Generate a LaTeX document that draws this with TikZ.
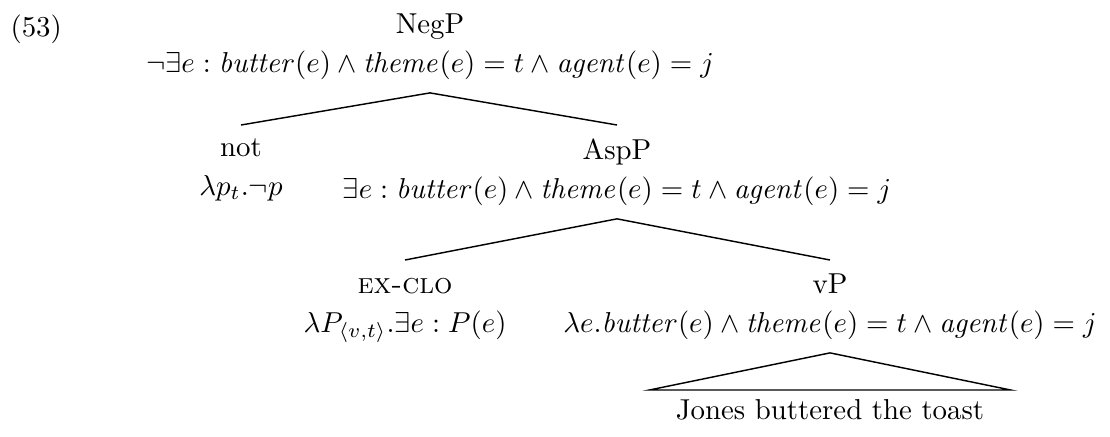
\documentclass[tikz,border=0pt]{standalone}
\usepackage{amsmath}
\usetikzlibrary{positioning}

\newcommand{\sem}[1]{\mathit{#1}}

\begin{document}
\begin{tikzpicture}[
    x=0.347pt, y=-0.347pt,
    lab/.style={align=center, anchor=north, inner xsep=1pt, inner ysep=4.5pt},
    branch/.style={line width=0.5pt}
]
    \useasboundingbox (0,0) rectangle (1110,436);
    % example number
    \node[anchor=base west, inner sep=0pt] (exno) at (10,36) {(53)};
    % root
    \node[lab] (negp) at (430,0)
        {NegP\\[1.5pt] $\neg\exists e : \sem{butter}(e) \wedge \sem{theme}(e) = t \wedge \sem{agent}(e) = j$};
    % first level
    \node[lab] (neg) at (241,125) {not\\[1.5pt] $\lambda p_t.\neg p$};
    \node[lab] (aspp) at (617,125)
        {AspP\\[1.5pt] $\exists e : \sem{butter}(e) \wedge \sem{theme}(e) = t \wedge \sem{agent}(e) = j$};
    % second level
    \node[lab] (exclo) at (405,260)
        {\textsc{ex-clo}\vphantom{P}\\[1.5pt] $\lambda P_{\langle v,t\rangle}.\exists e : P(e)$};
    \node[lab] (vp) at (830,260)
        {vP\\[1.5pt] $\lambda e.\sem{butter}(e) \wedge \sem{theme}(e) = t \wedge \sem{agent}(e) = j$};
    % yield under triangle
    \node[anchor=north, minimum width=125pt, inner ysep=3pt] (yield) at (830,390)
        {Jones buttered the toast};

    \draw[branch] (neg.north) -- (negp.south) -- (aspp.north);
    \draw[branch] (exclo.north) -- (aspp.south) -- (vp.north);
    \draw[branch] (vp.south) -- (yield.north west) -- (yield.north east) -- cycle;
\end{tikzpicture}
\end{document}
